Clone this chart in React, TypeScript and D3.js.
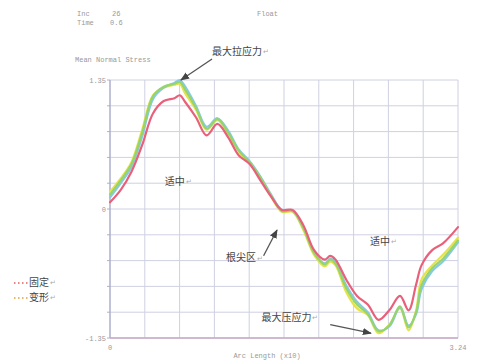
import React from "react";
import * as d3 from "d3";

const W = 479;
const H = 362;

const xs = [0, 0.1, 0.2, 0.3, 0.4, 0.5, 0.6, 0.65, 0.7, 0.8, 0.9, 1.0, 1.1, 1.2, 1.3, 1.4, 1.5, 1.6, 1.7, 1.8, 1.9, 2.0, 2.05, 2.1, 2.2, 2.3, 2.4, 2.5, 2.6, 2.7, 2.78, 2.85, 2.9, 3.0, 3.1, 3.24];

const redVals = [0.07, 0.2, 0.39, 0.67, 1.0, 1.13, 1.16, 1.19, 1.12, 0.96, 0.77, 0.89, 0.75, 0.56, 0.47, 0.3, 0.13, -0.01, -0.01, -0.17, -0.43, -0.53, -0.49, -0.53, -0.74, -0.91, -1.0, -1.16, -1.06, -0.91, -1.06, -0.79, -0.59, -0.43, -0.36, -0.19];
const yellowVals = [0.18, 0.32, 0.49, 0.83, 1.19, 1.27, 1.3, 1.31, 1.21, 1.04, 0.83, 0.93, 0.79, 0.6, 0.48, 0.32, 0.13, -0.03, -0.03, -0.22, -0.48, -0.6, -0.55, -0.59, -0.87, -1.04, -1.11, -1.3, -1.21, -1.04, -1.27, -1.06, -0.74, -0.59, -0.48, -0.3];
const greenVals = [0.15, 0.3, 0.47, 0.8, 1.18, 1.28, 1.31, 1.33, 1.25, 1.06, 0.84, 0.94, 0.8, 0.61, 0.49, 0.33, 0.14, -0.02, -0.02, -0.2, -0.46, -0.58, -0.53, -0.57, -0.83, -1.0, -1.1, -1.28, -1.22, -1.02, -1.24, -1.08, -0.8, -0.62, -0.52, -0.33];
const cyanVals = [0.12, 0.27, 0.44, 0.76, 1.15, 1.27, 1.32, 1.35, 1.28, 1.08, 0.86, 0.95, 0.82, 0.62, 0.5, 0.34, 0.15, -0.01, -0.02, -0.19, -0.45, -0.57, -0.52, -0.56, -0.8, -0.97, -1.08, -1.27, -1.23, -1.03, -1.22, -1.1, -0.84, -0.65, -0.55, -0.35];

const seriesNames = ["yellow", "cyan", "green", "red"];
const seriesColors = ["#e6e24a", "#86c9ec", "#95d46e", "#e8607a"];
const seriesValues = [yellowVals, cyanVals, greenVals, redVals];

const xDomain = [0, 3.24];
const yDomain = [-1.35, 1.35];
const xTickLabels = ["0", "3.24"];
const yTickLabels = ["-1.35", "0", "1.35"];
const yTickValues = [-1.35, 0, 1.35];
const gridDivisions = 10;

const legendLabels = ["固定", "变形"];
const legendColors = ["#e0605a", "#e0a040"];

type Note = { text: string; x: number; y: number; ax?: number; ay?: number; tx?: number; ty?: number };
const notes: Note[] = [
  { text: "最大拉应力", x: 0.95, y: 1.64, ax: 0.95, ay: 1.57, tx: 0.66, ty: 1.35 },
  { text: "适中", x: 0.51, y: 0.28 },
  { text: "根尖区", x: 1.08, y: -0.52, ax: 1.43, ay: -0.49, tx: 1.555, ty: -0.22 },
  { text: "适中", x: 2.42, y: -0.35 },
  { text: "最大压应力", x: 1.41, y: -1.14, ax: 2.05, ay: -1.21, tx: 2.43, ty: -1.3 },
];

export default function App() {
  const x = d3.scaleLinear().domain(xDomain).range([110, 458]);
  const y = d3.scaleLinear().domain(yDomain).range([338, 80]);
  const gx = d3.range(gridDivisions + 1).map((i) => xDomain[0] + (i * (xDomain[1] - xDomain[0])) / gridDivisions);
  const gy = d3.range(gridDivisions + 1).map((i) => yDomain[0] + (i * (yDomain[1] - yDomain[0])) / gridDivisions);
  const line = d3
    .line<number>()
    .x((_, i) => x(xs[i]))
    .y((d) => y(d))
    .curve(d3.curveCatmullRom.alpha(0.5));

  const mono = "'Liberation Mono', 'DejaVu Sans Mono', monospace";
  const cjk = "'Noto Sans CJK SC', sans-serif";

  return (
    <svg width={W} height={H} style={{ position: "absolute", left: 0, top: 0, background: "#fff" }}>
      <defs>
        <marker id="ah" viewBox="0 0 10 10" refX="9" refY="5" markerWidth="7" markerHeight="7" orient="auto-start-reverse">
          <path d="M0,1 L10,5 L0,9 z" fill="#444" />
        </marker>
      </defs>
      {/* header texts */}
      <g fontFamily={mono} fontSize={7} fill="#999">
        <text x={77} y={16}>Inc</text>
        <text x={112} y={16}>26</text>
        <text x={77} y={25}>Time</text>
        <text x={110} y={25}>0.6</text>
        <text x={257} y={16}>Float</text>
        <text x={75} y={62}>Mean Normal Stress</text>
      </g>
      {/* grid */}
      <g stroke="#cfd0e2" strokeWidth={1}>
        {gx.map((v, i) => (
          <line key={"gx" + i} x1={x(v)} x2={x(v)} y1={y(yDomain[0])} y2={y(yDomain[1])} />
        ))}
        {gy.map((v, i) => (
          <line key={"gy" + i} x1={x(xDomain[0])} x2={x(xDomain[1])} y1={y(v)} y2={y(v)} />
        ))}
      </g>
      {/* left tick marks */}
      <g stroke="#b0b2cc">
        {gy.map((v, i) => (
          <line key={"tk" + i} x1={x(0) - 3} x2={x(0)} y1={y(v)} y2={y(v)} />
        ))}
      </g>
      <line x1={x(0)} x2={x(0)} y1={y(yDomain[0])} y2={y(yDomain[1])} stroke="#a8abc8" strokeWidth={1.2} />
      <line x1={x(0)} x2={x(xDomain[1])} y1={y(yDomain[0])} y2={y(yDomain[0])} stroke="#c9a8c4" strokeWidth={1.4} />
      {/* tick labels */}
      <g fontFamily={mono} fontSize={7} fill="#999">
        {yTickValues.map((v, i) => (
          <text key={"yl" + i} x={x(0) - 4} y={y(v) + 2.5} textAnchor="end">
            {yTickLabels[i]}
          </text>
        ))}
        <text x={x(xDomain[0])} y={350} textAnchor="middle">{xTickLabels[0]}</text>
        <text x={x(xDomain[1])} y={350} textAnchor="middle">{xTickLabels[1]}</text>
        <text x={267} y={358} textAnchor="middle">Arc Length (x10)</text>
      </g>
      {/* series */}
      <g fill="none" strokeWidth={2.2} strokeLinejoin="round" strokeLinecap="round">
        {seriesValues.map((vals, i) => (
          <path key={seriesNames[i]} d={line(vals) || ""} stroke={seriesColors[i]} />
        ))}
      </g>
      {/* annotations */}
      {notes.map((n, i) => (
        <g key={"n" + i}>
          {n.ax !== undefined && (
            <line
              x1={x(n.ax)}
              y1={y(n.ay!)}
              x2={x(n.tx!)}
              y2={y(n.ty!)}
              stroke="#555"
              strokeWidth={1.3}
              markerEnd="url(#ah)"
            />
          )}
          <text x={x(n.x)} y={y(n.y)} fontFamily={cjk} fontSize={10} fill="#444" dominantBaseline="middle">
            {n.text}
            <tspan fontSize={7} fill="#aaa" dx={1}>↵</tspan>
          </text>
        </g>
      ))}
      {/* legend */}
      {legendLabels.map((l, i) => (
        <g key={"lg" + i}>
          <line x1={14} x2={28} y1={283 + i * 15} y2={283 + i * 15} stroke={legendColors[i]} strokeWidth={1.5} strokeDasharray="1.5,2.5" />
          <text x={29} y={283 + i * 15} fontFamily={cjk} fontSize={10} fill="#444" dominantBaseline="middle">
            {l}
            <tspan fontSize={7} fill="#aaa" dx={1}>↵</tspan>
          </text>
        </g>
      ))}
    </svg>
  );
}
